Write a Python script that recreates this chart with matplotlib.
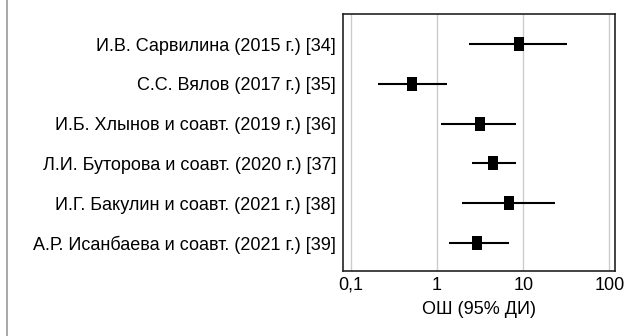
import numpy as np
import matplotlib
matplotlib.use("Agg")
import matplotlib.pyplot as plt
from matplotlib.lines import Line2D

plt.rcParams["font.family"] = ["Liberation Sans", "DejaVu Sans"]

# Studies, odds ratios and 95% CI bounds
studies = [
    "И.В. Сарвилина (2015 г.) [34]",
    "С.С. Вялов (2017 г.) [35]",
    "И.Б. Хлынов и соавт. (2019 г.) [36]",
    "Л.И. Буторова и соавт. (2020 г.) [37]",
    "И.Г. Бакулин и соавт. (2021 г.) [38]",
    "А.Р. Исанбаева и соавт. (2021 г.) [39]",
]
odds_ratio = [8.9, 0.51, 3.14, 4.44, 6.82, 2.90]
ci_low = [2.36, 0.208, 1.10, 2.55, 1.94, 1.36]
ci_high = [32.5, 1.29, 8.15, 8.15, 23.6, 6.76]
xticks = [0.1, 1, 10, 100]
xtick_labels = ["0,1", "1", "10", "100"]

# slightly tall rectangle for the point estimate
box = [(-1, -1.3), (1, -1.3), (1, 1.3), (-1, 1.3), (-1, -1.3)]


def main():
    fs = 13
    fig = plt.figure(figsize=(6.38, 3.36), dpi=100)
    ax = fig.add_axes([343 / 638, 1 - 271 / 336, 272 / 638, 257 / 336])

    n = len(studies)
    y = np.arange(n, 0, -1)

    for yi, lo, hi in zip(y, ci_low, ci_high):
        ax.plot([lo, hi], [yi, yi], color="black", lw=1.5, solid_capstyle="butt", zorder=3)
    ax.plot(odds_ratio, y, ls="none", marker=box, color="black", markersize=9.4,
            markeredgewidth=0, zorder=4)

    ax.set_xscale("log")
    ax.set_xlim(0.081, 116)
    ax.set_ylim(0.29, 6.76)
    ax.set_xticks(xticks)
    ax.set_xticklabels(xtick_labels, fontsize=fs)
    ax.xaxis.set_minor_locator(plt.NullLocator())
    ax.tick_params(axis="x", length=0, pad=4)
    ax.set_yticks(y)
    ax.set_yticklabels(studies, fontsize=fs)
    ax.tick_params(axis="y", length=0, pad=5)
    ax.grid(axis="x", color="#cccccc", lw=1, zorder=0)
    ax.set_axisbelow(True)
    for sp in ax.spines.values():
        sp.set_linewidth(1.2)
        sp.set_color("#222222")
    ax.set_xlabel("ОШ (95% ДИ)", fontsize=fs, labelpad=5)

    # thin frame line along the left edge
    fig.add_artist(Line2D([6.5 / 638, 6.5 / 638], [0, 1], transform=fig.transFigure,
                          color="#999999", lw=1.2))

    fig.savefig("out.png", dpi=100)


if __name__ == "__main__":
    main()
